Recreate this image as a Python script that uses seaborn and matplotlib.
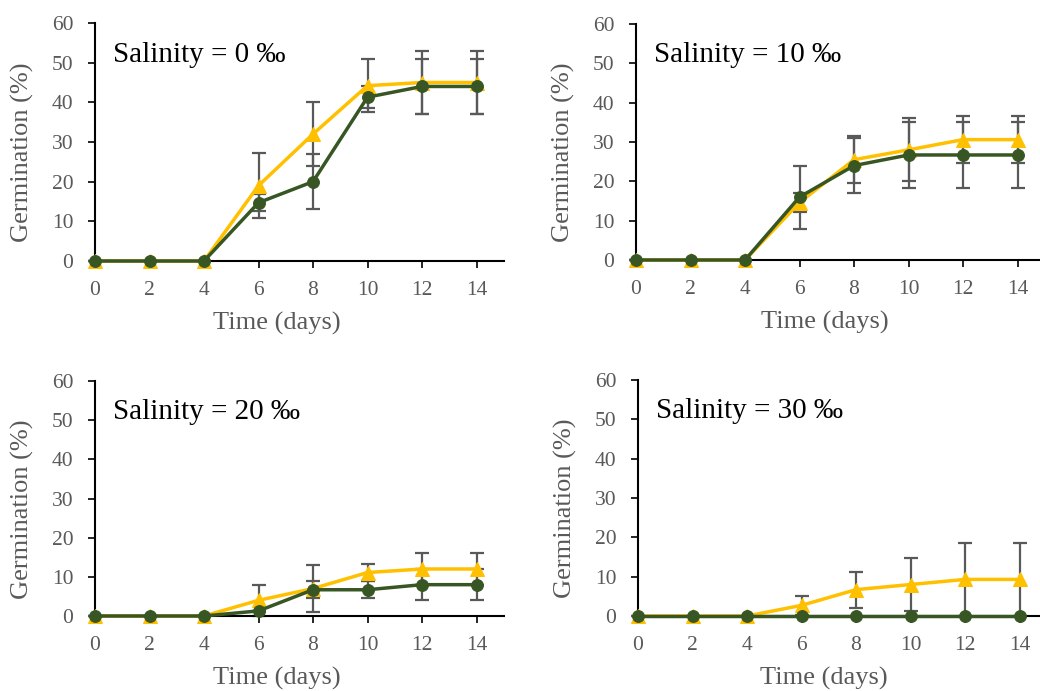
import matplotlib
matplotlib.use("Agg")
import matplotlib.pyplot as plt
import seaborn as sns
import pandas as pd
import numpy as np

sns.set_theme(style="white")
plt.rcParams['font.family'] = ['Liberation Serif', 'DejaVu Serif']
plt.rcParams['axes.unicode_minus'] = False

days = [0, 2, 4, 6, 8, 10, 12, 14]
salinity_labels = ["Salinity = 0 \u2030", "Salinity = 10 \u2030",
                   "Salinity = 20 \u2030", "Salinity = 30 \u2030"]

# yellow series (triangles)
yellow_0 = [0, 0, 0, 19.0, 32.0, 44.2, 45.0, 45.0]
yellow_err_0 = [0, 0, 0, 8.2, 8.0, 6.7, 8.0, 8.0]
yellow_10 = [0, 0, 0, 14.6, 25.5, 28.0, 30.6, 30.6]
yellow_err_10 = [0, 0, 0, 2.4, 6.0, 8.0, 6.0, 6.0]
yellow_20 = [0, 0, 0, 4.0, 7.0, 11.1, 12.0, 12.0]
yellow_err_20 = [0, 0, 0, 4.0, 6.0, 2.2, 4.0, 4.0]
yellow_30 = [0, 0, 0, 2.7, 6.7, 8.0, 9.3, 9.3]
yellow_err_30 = [0, 0, 0, 2.4, 4.6, 6.8, 9.3, 9.3]

# green series (circles)
green_0 = [0, 0, 0, 14.7, 20.0, 41.3, 44.0, 44.0]
green_err_0 = [0, 0, 0, 2.2, 7.0, 2.7, 7.0, 7.0]
green_10 = [0, 0, 0, 16.0, 24.0, 26.7, 26.7, 26.7]
green_err_10 = [0, 0, 0, 8.0, 7.0, 8.3, 8.3, 8.3]
green_20 = [0, 0, 0, 1.3, 6.7, 6.7, 8.0, 8.0]
green_err_20 = [0, 0, 0, 0, 2.2, 2.2, 4.0, 4.0]
green_30 = [0, 0, 0, 0, 0, 0, 0, 0]
green_err_30 = [0, 0, 0, 0, 0, 0, 0, 0]

yellows = [yellow_0, yellow_10, yellow_20, yellow_30]
yellow_errs = [yellow_err_0, yellow_err_10, yellow_err_20, yellow_err_30]
greens = [green_0, green_10, green_20, green_30]
green_errs = [green_err_0, green_err_10, green_err_20, green_err_30]

YELLOW = "#FFC000"
GREEN = "#375623"
GRAY = "#595959"

W, H = 1040, 691
fig = plt.figure(figsize=(W / 100, H / 100), dpi=100)

px_per_unit = 27.25
width = px_per_unit * 15
# (left px, bottom px from top, top px from top)
positions = [(95, 261, 23), (636, 260, 24), (95, 616, 381), (638, 616, 380)]
xlabel_centers_px = [277, 825, 277, 824]

for i, (left, bot, top) in enumerate(positions):
    h = bot - top
    ax = fig.add_axes([left / W, 1 - bot / H, width / W, h / H])
    ax.set_facecolor("none")

    df = pd.DataFrame({
        "day": days * 2,
        "germ": yellows[i] + greens[i],
        "series": ["A"] * len(days) + ["B"] * len(days),
    })

    ax.errorbar(days, yellows[i], yerr=yellow_errs[i], fmt="none", ecolor=GRAY,
                elinewidth=1.6, capsize=4.7, capthick=1.6, zorder=2)
    ge = np.array(green_errs[i])
    if ge.any():
        ax.errorbar(days, greens[i], yerr=ge, fmt="none", ecolor=GRAY,
                    elinewidth=1.6, capsize=4.7, capthick=1.6, zorder=2)

    sns.lineplot(data=df[df.series == "A"], x="day", y="germ", ax=ax,
                 color=YELLOW, lw=2.5, marker="^", markersize=10.5,
                 markeredgecolor=YELLOW, zorder=3, legend=False)
    sns.lineplot(data=df[df.series == "B"], x="day", y="germ", ax=ax,
                 color=GREEN, lw=2.5, marker="o", markersize=8.5,
                 markeredgecolor=GREEN, zorder=4, legend=False)
    for ln in ax.lines:
        ln.set_clip_on(False)

    ax.set_xlim(0, 15)
    ax.set_ylim(0, 60)
    ax.set_xticks(days)
    ax.set_yticks([0, 10, 20, 30, 40, 50, 60])
    ax.tick_params(axis="both", direction="out", length=5, width=1.2,
                   colors="black", labelcolor=GRAY, labelsize=15.5,
                   left=True, bottom=True)
    ax.tick_params(axis="y", pad=10.5)
    ax.tick_params(axis="x", pad=9.5)
    for s in ["top", "right"]:
        ax.spines[s].set_visible(False)
    for s in ["left", "bottom"]:
        ax.spines[s].set_color("black")
        ax.spines[s].set_linewidth(1.5)
    ax.set_xlabel("Time (days)", fontsize=19, color=GRAY)
    ax.set_ylabel("Germination (%)", fontsize=19, color=GRAY)
    ax.xaxis.set_label_coords((xlabel_centers_px[i] - left) / width, -51 / h)
    ax.yaxis.set_label_coords(-61 / width, 0.455)
    ax.grid(False)
    ax.text(0.65, 52.0, salinity_labels[i], fontsize=21, color="black",
            ha="left", va="center")

fig.savefig("out.png", dpi=100)
